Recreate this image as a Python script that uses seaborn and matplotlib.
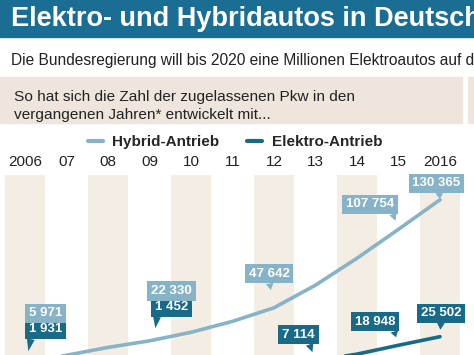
import matplotlib
matplotlib.use("Agg")
import matplotlib.pyplot as plt
from matplotlib.patches import Rectangle
from matplotlib.lines import Line2D
import seaborn as sns
import pandas as pd

# Bestand zugelassener Pkw (jeweils 1. Januar)
years = [2006, 2007, 2008, 2009, 2010, 2011, 2012, 2013, 2014, 2015, 2016]
year_labels = ["2006", "07", "08", "09", "10", "11", "12", "13", "14", "15", "2016"]
hybrid = [5971, 11275, 17307, 22330, 28862, 37256, 47642, 64995, 85575, 107754, 130365]
elektro = [1931, 1790, 1436, 1452, 1588, 2307, 4541, 7114, 12156, 18948, 25502]

series_names = ["Hybrid-Antrieb", "Elektro-Antrieb"]
labelled_years_hybrid = [2006, 2009, 2012, 2015, 2016]
labelled_years_elektro = [2006, 2009, 2013, 2015, 2016]

HEADER = "#1b6e93"
C_HYB = "#86b3c8"
C_ELE = "#186a87"
BAND = "#f4ede4"
BOX = "#eee6dc"

sns.set_style("white")
plt.rcParams["font.family"] = ["Liberation Sans", "DejaVu Sans"]

df = pd.DataFrame({
    "Jahr": years * 2,
    "Anzahl": hybrid + elektro,
    "Antrieb": [series_names[0]] * len(years) + [series_names[1]] * len(years),
})

fig = plt.figure(figsize=(4.74, 3.55), dpi=100)
W, H = 474, 355

# header block
fig.add_artist(Rectangle((0, 1 - 37 / H), 1, 37 / H, transform=fig.transFigure,
                         color=HEADER, zorder=0))
fig.text(11 / W, 1 - 19 / H, "Elektro- und Hybridautos in Deutschland",
         color="white", fontsize=19.5, fontweight="bold", va="center", ha="left")
fig.text(11 / W, 1 - 61 / H,
         "Die Bundesregierung will bis 2020 eine Millionen Elektroautos auf die Straße bringen.",
         color="#222222", fontsize=11.2, va="center", ha="left")

# beige intro box
fig.add_artist(Rectangle((0, 1 - 123 / H), 462 / W, 46 / H, transform=fig.transFigure,
                         color=BOX, zorder=0))
fig.add_artist(Rectangle((468 / W, 1 - 123 / H), 10 / W, 46 / H, transform=fig.transFigure,
                         color=BOX, zorder=0))
fig.text(14 / W, 1 - 97 / H, "So hat sich die Zahl der zugelassenen Pkw in den",
         color="#222222", fontsize=11.1, va="center", ha="left")
fig.text(14 / W, 1 - 115 / H, "vergangenen Jahren* entwickelt mit...",
         color="#222222", fontsize=11.1, va="center", ha="left")

# chart area (cut off at the bottom like the original)
ax = fig.add_axes([0, 0, 1, 180 / H])
for y in years[::2]:
    ax.axvspan(y - 0.48, y + 0.48, color=BAND, lw=0, zorder=0)

sns.lineplot(data=df, x="Jahr", y="Anzahl", hue="Antrieb",
             palette={series_names[0]: C_HYB, series_names[1]: C_ELE},
             linewidth=2.6, legend=False, ax=ax, zorder=3)

ax.set_xlim(2005.398, 2016.819)
ax.set_ylim(11486, 149310)
ax.xaxis.tick_top()
ax.set_xticks(years)
ax.set_xticklabels(year_labels, fontsize=11, color="#222222")
ax.tick_params(axis="x", length=0, pad=4)
ax.set_yticks([])
ax.set_xlabel("")
ax.set_ylabel("")
for s in ax.spines.values():
    s.set_visible(False)

# value callouts: (dx, dy) offset of the box centre in pixels, tail position, gap
hyb_layout = {2006: (20.5, 54, None, 0), 2009: (22, 77, None, 0),
              2012: (-5, 34, 0.5, 13), 2015: (-28.5, 25, 0.95, 6.5),
              2016: (-3.5, 16.5, 0.55, 0.5)}
ele_layout = {2006: (20.5, 38, 0.08, 12), 2009: (22, 61, 0.08, 29),
              2013: (-17, 26, 0.8, 6.5), 2015: (-23.5, 23.5, 0.95, 6),
              2016: (1, 23.5, 0.5, 5)}


def fmt(v):
    return f"{v:,}".replace(",", " ")


def callout(year, value, color, layout, anchor_value=None):
    dx, dy, relx, gap = layout
    ay = value if anchor_value is None else anchor_value
    arrow = None
    if relx is not None:
        arrow = dict(arrowstyle="wedge,tail_width=0.6,shrink_factor=0.5", fc=color,
                     ec="none", relpos=(relx, 0), shrinkA=0, shrinkB=gap)
    ax.annotate(fmt(value), xy=(year, ay), xytext=(dx, dy), textcoords="offset pixels",
                ha="center", va="center", color="white", fontsize=9.5, fontweight="bold",
                bbox=dict(boxstyle="square,pad=0.28", fc=color, ec="none"),
                arrowprops=arrow, annotation_clip=False, zorder=5)


for y in labelled_years_elektro:
    callout(y, elektro[years.index(y)], C_ELE, ele_layout[y])
for y in labelled_years_hybrid:
    i = years.index(y)
    if y in (2006, 2009):
        # stacked on top of the Elektro box
        callout(y, hybrid[i], C_HYB, hyb_layout[y], anchor_value=elektro[i])
    else:
        callout(y, hybrid[i], C_HYB, hyb_layout[y])

handles = [Line2D([], [], color=C_HYB, lw=3), Line2D([], [], color=C_ELE, lw=3)]
fig.legend(handles, series_names, loc="center", bbox_to_anchor=(235 / W, 1 - 142 / H),
           ncol=2, frameon=False, prop={"size": 11, "weight": "bold"},
           handlelength=1.0, handletextpad=0.6, columnspacing=1.8)

fig.savefig("out.png", dpi=100)
